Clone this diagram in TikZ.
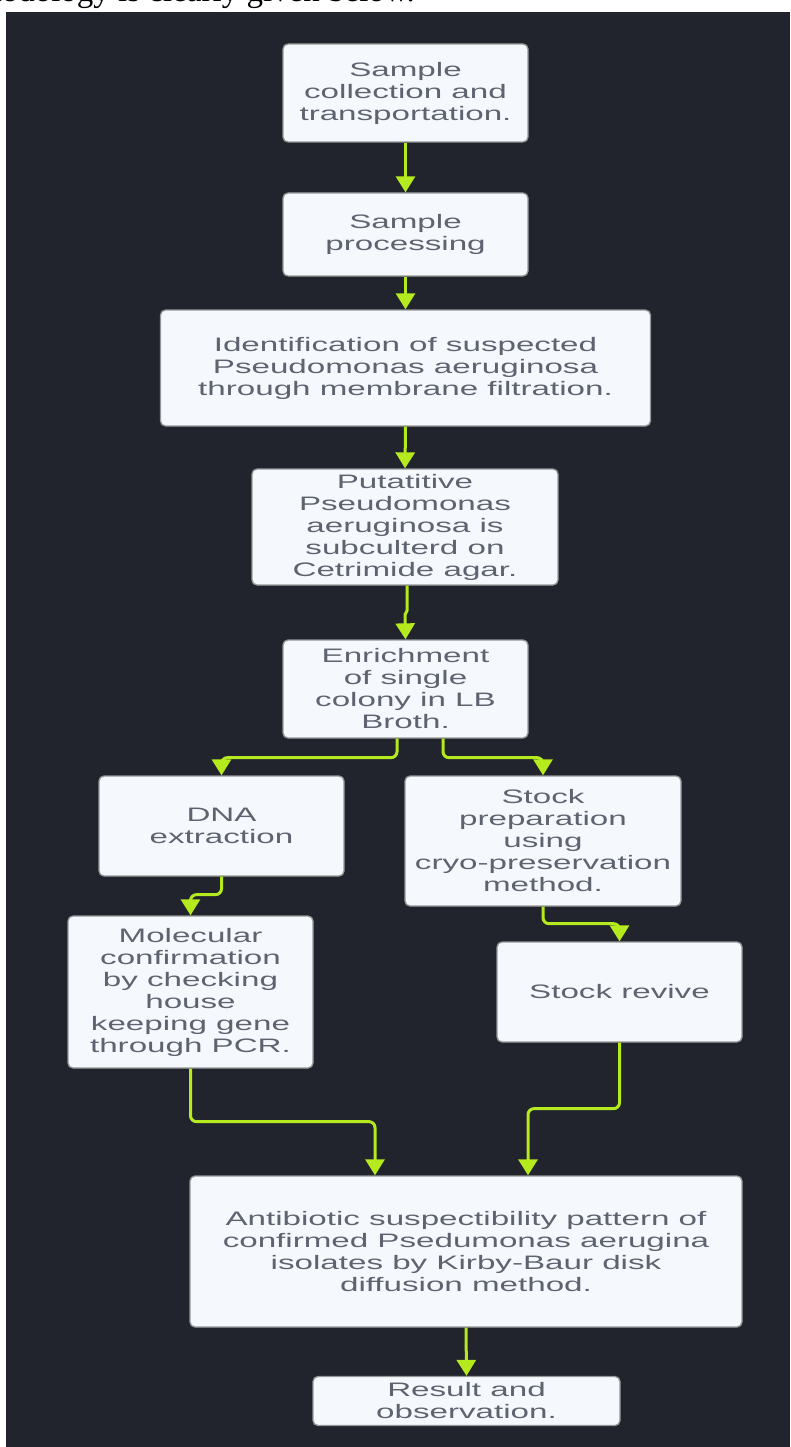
\documentclass[tikz,border=0pt]{standalone}
\usepackage{fontspec}
\setmainfont{Liberation Sans}
\newfontfamily\boxfont[FakeStretch=1.7]{Liberation Sans}
\newfontfamily\serifpart{Liberation Serif}
\usetikzlibrary{arrows.meta}
\definecolor{bgdark}{RGB}{33,36,44}
\definecolor{boxfill}{RGB}{245,249,254}
\definecolor{boxline}{RGB}{150,150,150}
\definecolor{boxtext}{RGB}{95,99,112}
\definecolor{arrowgreen}{RGB}{180,234,30}
\begin{document}
\begin{tikzpicture}[x=1pt,y=-1pt,
  box/.style={draw=boxline, line width=1.3pt, fill=boxfill, rounded corners=5pt,
    inner sep=0pt, align=center, text=boxtext,
    font=\boxfont\fontsize{19.5}{22}\selectfont},
  arr/.style={draw=arrowgreen, line width=3pt, rounded corners=6pt,
    -{Triangle[width=19pt,length=16pt]}}]
\useasboundingbox (0,0) rectangle (790,1447);
\begin{scope}
\clip (0,0) rectangle (790,1447);
\fill[white] (0,0) rectangle (790,1447);
\node[anchor=base east, inner sep=0pt, text=black,
  font=\serifpart\fontsize{33}{33}\selectfont] (hdr) at (415,1.5) {methodology is clearly given below.};
\fill[bgdark] (6,12) rectangle (790,1447);
\end{scope}

\node[box, minimum width=245pt, minimum height=98pt] (b1) at (405.5,93)
  {Sample\\collection and\\transportation.};
\node[box, minimum width=245pt, minimum height=83pt] (b2) at (405.5,234.5)
  {Sample\\processing};
\node[box, minimum width=490pt, minimum height=116pt] (b3) at (405.5,368)
  {Identification of suspected\\Pseudomonas aeruginosa\\through membrane filtration.};
\node[box, minimum width=306pt, minimum height=116pt] (b4) at (405,527)
  {Putatitive\\Pseudomonas\\aeruginosa is\\subculterd on\\Cetrimide agar.};
\node[box, minimum width=245pt, minimum height=98pt] (b5) at (405.5,689)
  {Enrichment\\of single\\colony in LB\\Broth.};
\node[box, minimum width=245pt, minimum height=100pt] (b6) at (221.5,826)
  {DNA\\extraction};
\node[box, minimum width=276pt, minimum height=130pt] (b7) at (543,841)
  {Stock\\preparation\\using\\cryo-preservation\\method.};
\node[box, minimum width=245pt, minimum height=152pt] (b8) at (190.5,992)
  {Molecular\\confirmation\\by checking\\house\\keeping gene\\through PCR.};
\node[box, minimum width=245pt, minimum height=100pt] (b9) at (619.5,992)
  {Stock revive};
\node[box, minimum width=552pt, minimum height=151pt] (b10) at (466,1251.5)
  {Antibiotic suspectibility pattern of\\confirmed Psedumonas aerugina\\isolates by Kirby-Baur disk\\diffusion method.};
\node[box, minimum width=307pt, minimum height=49pt] (b11) at (466.5,1401)
  {Result and\\observation.};

\draw[arr] (b1.south) -- (b2.north);
\draw[arr] (b2.south) -- (b3.north);
\draw[arr] (b3.south) -- (b4.north);
\draw[arr, rounded corners=0pt] ([xshift=2pt]b4.south) -- ++(0,25) -- ++(-2,4) -- (b5.north);
\draw[arr] ([xshift=-8.5pt]b5.south) -- ++(0,19) -| (b6.north);
\draw[arr] ([xshift=37.5pt]b5.south) -- ++(0,19) -| (b7.north);
\draw[arr] (b6.south) -- ++(0,18) -| (b8.north);
\draw[arr] (b7.south) -- ++(0,17) -| (b9.north);
\draw[arr] (b8.south) -- ++(0,53) -| ([xshift=-91pt]b10.north);
\draw[arr] (b9.south) -- ++(0,66) -| ([xshift=62pt]b10.north);
\draw[arr] (b10.south) -- (b11.north);
\end{tikzpicture}
\end{document}
